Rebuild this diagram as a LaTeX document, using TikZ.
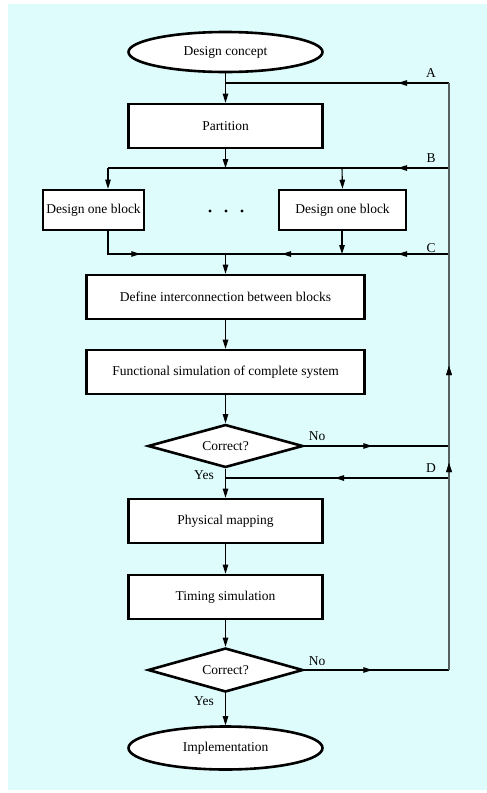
\documentclass[tikz,border=0pt]{standalone}
\usepackage{fontspec}
\setmainfont{Liberation Serif}
\usetikzlibrary{shapes.geometric,arrows.meta,decorations.markings}
\definecolor{bgcyan}{RGB}{222,252,252}
\definecolor{rline}{RGB}{85,95,95}
\tikzset{
  tip/.tip={Triangle[length=9pt,width=5.5pt]},
  conn/.style={line width=1.1pt,draw=black},
  arr/.style={conn,-tip},
  midarr/.style={decoration={markings,mark=at position #1 with {\arrow{Triangle[length=9pt,width=5.5pt,color=black]}}},postaction=decorate},
  boxnode/.style={draw,line width=2.6pt,fill=white,rectangle,inner sep=0pt,font=\fontsize{13.5}{15}\selectfont},
  ovalnode/.style={draw,line width=2.6pt,fill=white,ellipse,inner sep=0pt,font=\fontsize{13.5}{15}\selectfont},
  decnode/.style={draw,line width=2.6pt,fill=white,diamond,aspect=3.6,inner sep=0pt,font=\fontsize{13.5}{15}\selectfont},
  lbl/.style={inner sep=0pt,font=\fontsize{13.5}{15}\selectfont},
}
\begin{document}
\begin{tikzpicture}[x=1pt,y=-1pt]
\useasboundingbox (0,0) rectangle (487,793);
\fill[bgcyan] (8,4) rectangle (487,790);

% nodes
\node[ovalnode,minimum width=194,minimum height=40] (dc) at (225.5,52) {Design concept};
\node[boxnode,minimum width=194,minimum height=44] (part) at (225.5,126) {Partition};
\node[boxnode,minimum width=101,minimum height=40] (d1) at (93.5,210) {Design one block};
\node[boxnode,minimum width=127,minimum height=40] (d2) at (342.5,210) {Design one block};
\node[boxnode,minimum width=278,minimum height=44] (def) at (225.5,297) {Define interconnection between blocks};
\node[boxnode,minimum width=278,minimum height=44] (fun) at (225.5,372) {Functional simulation of complete system};
\node[decnode,minimum width=155,minimum height=43] (c1) at (225.5,446) {Correct?};
\node[boxnode,minimum width=194,minimum height=44] (phy) at (225.5,521) {Physical mapping};
\node[boxnode,minimum width=194,minimum height=44] (tim) at (225.5,597) {Timing simulation};
\node[decnode,minimum width=155,minimum height=44] (c2) at (225.5,670) {Correct?};
\node[ovalnode,minimum width=194,minimum height=43] (imp) at (225.5,748) {Implementation};

\fill (210,211) circle (1.6) (226,211) circle (1.6) (242,211) circle (1.6);

% coordinates
\coordinate (jA) at (225.5,83);
\coordinate (rA) at (449,83);
\coordinate (jB) at (225.5,168);
\coordinate (bL) at (108,168);
\coordinate (bR) at (342,168);
\coordinate (rB) at (449,168);
\coordinate (cL) at (108,254);
\coordinate (jC) at (225.5,254);
\coordinate (cR) at (342,254);
\coordinate (rC) at (449,254);
\coordinate (rN1) at (449,446);
\coordinate (jD) at (225.5,478);
\coordinate (rD) at (449,478);
\coordinate (rN2) at (449,670);

% main flow
\draw[conn] (dc.south) -- (jA);
\draw[arr] (jA) -- (part.north);
\draw[arr] (part.south) -- (jB);
\draw[conn] (bL) -- (rB);
\draw[arr] (bL) -- (bL |- d1.north);
\draw[arr] (bR) -- (d2.north);
\draw[conn,midarr=55pt] (cL |- d1.south) -- (cL) -- (jC);
\draw[arr] (d2.south -| cR) -- (cR);
\draw[conn,midarr=60pt] (cR) -- (jC);
\draw[arr] (jC) -- (def.north);
\draw[arr] (def.south) -- (fun.north);
\draw[arr] (fun.south) -- (c1.north);
\draw[arr] (c1.south) -- (phy.north);
\draw[arr] (phy.south) -- (tim.north);
\draw[arr] (tim.south) -- (c2.north);
\draw[arr] (c2.south) -- (imp.north);

% feedback lines
\draw[conn,midarr=51pt] (rA) -- (jA);
\draw[conn,midarr=51pt] (rB) -- (bR);
\draw[conn,midarr=51pt] (rC) -- (cR);
\draw[conn,midarr=68pt] (c1.east) -- (rN1);
\draw[conn,midarr=68pt] (c2.east) -- (rN2);
\draw[conn,midarr=114pt] (rD) -- (jD);
\draw[conn,draw=rline,midarr=207pt,midarr=304pt] (rN2) -- (rN1) -- (rA);

% labels
\node[lbl] (la) at (431,73) {A};
\node[lbl] (lb) at (431,158) {B};
\node[lbl] (lc) at (431,248) {C};
\node[lbl] (ld) at (431,468) {D};
\node[lbl] (ln1) at (317,436) {No};
\node[lbl] (ln2) at (317,661) {No};
\node[lbl] (ly1) at (204,475) {Yes};
\node[lbl] (ly2) at (204,701) {Yes};
\end{tikzpicture}
\end{document}
